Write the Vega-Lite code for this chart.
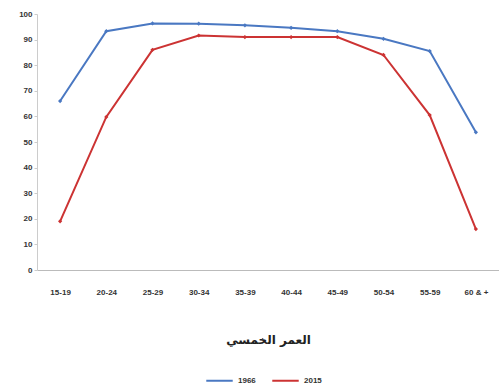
{
  "$schema": "https://vega.github.io/schema/vega-lite/v6.json",
  "autosize": {"type": "none"},
  "padding": {"left": 37, "top": 14, "right": 0, "bottom": 115},
  "width": 462,
  "height": 256,
  "background": "white",
  "data": {"values": [
    {"age": "15-19", "year": "1966", "v": 66},
    {"age": "20-24", "year": "1966", "v": 93.3},
    {"age": "25-29", "year": "1966", "v": 96.3},
    {"age": "30-34", "year": "1966", "v": 96.2},
    {"age": "35-39", "year": "1966", "v": 95.6},
    {"age": "40-44", "year": "1966", "v": 94.6},
    {"age": "45-49", "year": "1966", "v": 93.3},
    {"age": "50-54", "year": "1966", "v": 90.3},
    {"age": "55-59", "year": "1966", "v": 85.5},
    {"age": "60 & +", "year": "1966", "v": 53.8},
    {"age": "15-19", "year": "2015", "v": 19},
    {"age": "20-24", "year": "2015", "v": 59.8},
    {"age": "25-29", "year": "2015", "v": 86},
    {"age": "30-34", "year": "2015", "v": 91.6},
    {"age": "35-39", "year": "2015", "v": 91},
    {"age": "40-44", "year": "2015", "v": 91},
    {"age": "45-49", "year": "2015", "v": 91},
    {"age": "50-54", "year": "2015", "v": 84},
    {"age": "55-59", "year": "2015", "v": 60.5},
    {"age": "60 & +", "year": "2015", "v": 16}
  ]},
  "mark": {"type": "line", "strokeWidth": 2, "point": {"size": 18, "filled": true, "shape": "diamond"}},
  "encoding": {
    "x": {
      "field": "age", "type": "ordinal", "sort": null,
      "scale": {"type": "point", "padding": 0.5},
      "axis": {
        "title": "العمر الخمسي", "titleFont": "DejaVu Sans", "titleFontSize": 12, "titleFontWeight": "bold",
        "titlePadding": 38, "titleColor": "#222",
        "labelAngle": 0, "labelFont": "Liberation Sans", "labelFontSize": 8, "labelFontWeight": "bold",
        "labelColor": "#333", "labelPadding": 18,
        "domainColor": "#bbb", "ticks": false, "grid": false
      }
    },
    "y": {
      "field": "v", "type": "quantitative",
      "scale": {"domain": [0, 100]},
      "axis": {
        "title": null, "values": [0,10,20,30,40,50,60,70,80,90,100],
        "labelFont": "Liberation Sans", "labelFontSize": 8, "labelFontWeight": "bold", "labelColor": "#333",
        "domainColor": "#ccc", "tickColor": "#ccc", "tickSize": 3, "grid": false
      }
    },
    "color": {
      "field": "year", "type": "nominal",
      "scale": {"domain": ["1966", "2015"], "range": ["#4a78c2", "#cc3333"]},
      "legend": {
        "title": null, "orient": "none", "legendX": 168, "legendY": 352, "direction": "horizontal",
        "symbolType": "stroke", "symbolSize": 700, "symbolStrokeWidth": 2,
        "labelFont": "Liberation Sans", "labelFontSize": 8, "labelFontWeight": "bold", "labelColor": "#333",
        "columnPadding": 12
      }
    }
  },
  "config": {"view": {"stroke": null}}
}
